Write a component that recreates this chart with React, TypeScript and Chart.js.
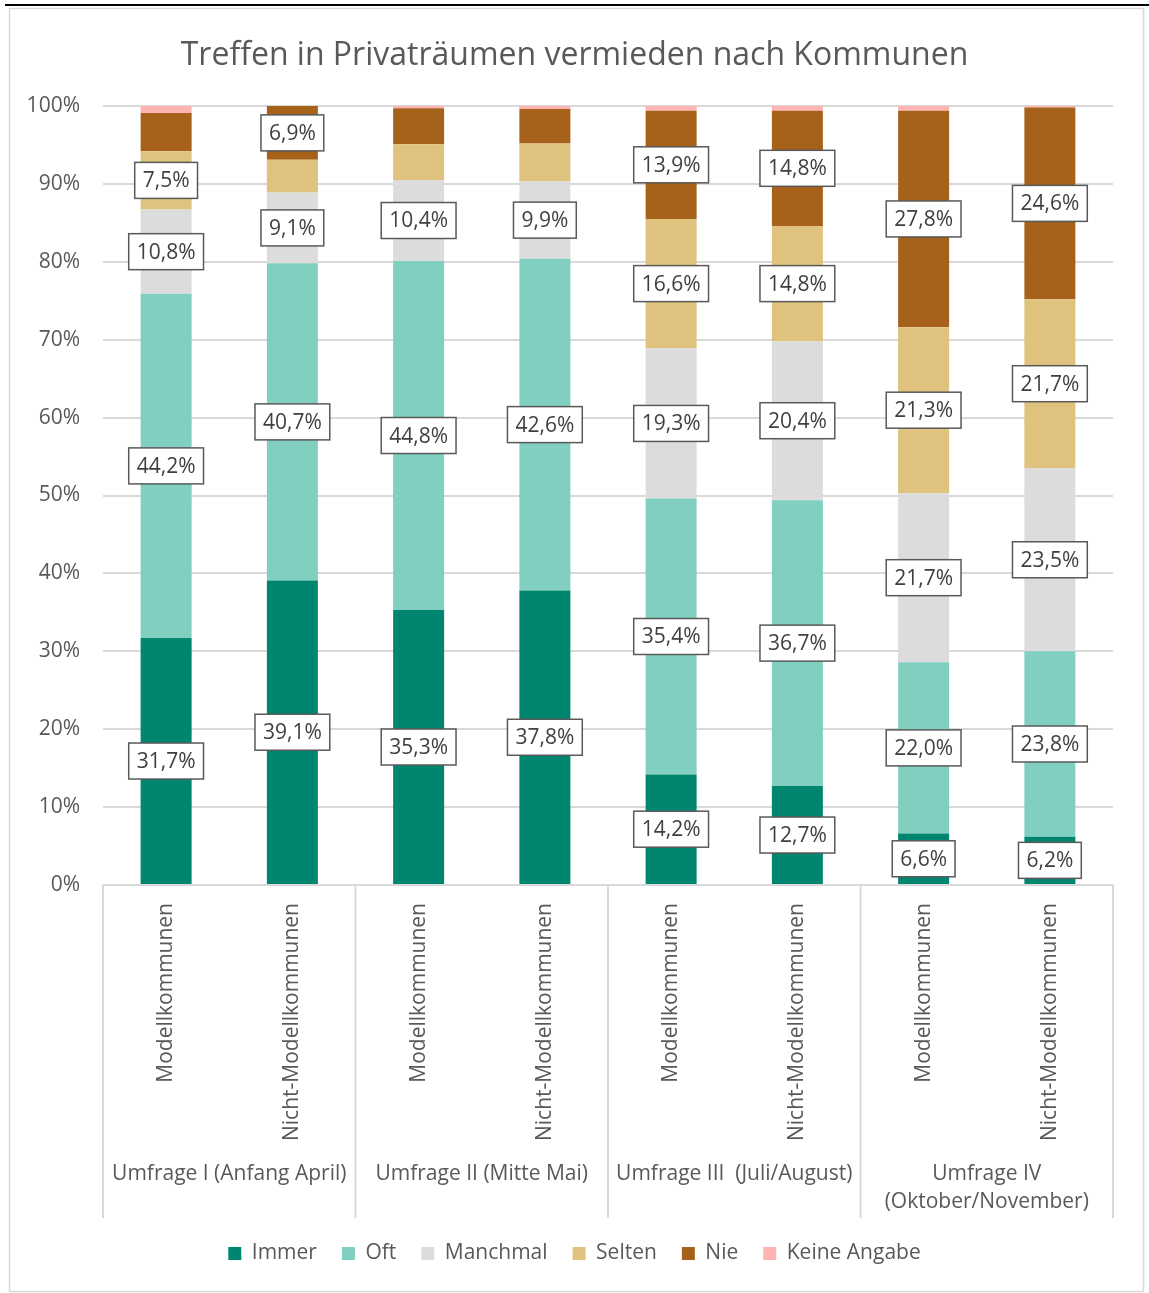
import React, { useEffect, useRef } from "react";
import { Chart, registerables } from "chart.js";

Chart.register(...registerables);

const categories = [
  "Modellkommunen", "Nicht-Modellkommunen",
  "Modellkommunen", "Nicht-Modellkommunen",
  "Modellkommunen", "Nicht-Modellkommunen",
  "Modellkommunen", "Nicht-Modellkommunen",
];
const groups: string[][] = [
  ["Umfrage I (Anfang April)"],
  ["Umfrage II (Mitte Mai)"],
  ["Umfrage III  (Juli/August)"],
  ["Umfrage IV", "(Oktober/November)"],
];
const seriesNames = ["Immer", "Oft", "Manchmal", "Selten", "Nie", "Keine Angabe"];
const immer = [31.7, 39.1, 35.3, 37.8, 14.2, 12.7, 6.6, 6.2];
const oft = [44.2, 40.7, 44.8, 42.6, 35.4, 36.7, 22.0, 23.8];
const manchmal = [10.8, 9.1, 10.4, 9.9, 19.3, 20.4, 21.7, 23.5];
const selten = [7.5, 4.2, 4.6, 4.9, 16.6, 14.8, 21.3, 21.7];
const nie = [4.9, 6.9, 4.6, 4.4, 13.9, 14.8, 27.8, 24.6];
const keineAngabe = [0.9, 0.0, 0.3, 0.4, 0.6, 0.6, 0.6, 0.2];
const colors = ["#00856f", "#80cfc1", "#dcdcdc", "#dfc27d", "#a6611a", "#ffb3b3"];
const yTicks = [0, 10, 20, 30, 40, 50, 60, 70, 80, 90, 100];

const FONT = "'Open Sans', sans-serif";
const TEXT = "#595959";
const GRID = "#d9d9d9";

const W = 1149;
const H = 1293;

export default function App() {
  const ref = useRef<HTMLCanvasElement | null>(null);

  useEffect(() => {
    if (!ref.current) return;
    const values = [immer, oft, manchmal, selten, nie, keineAngabe];

    const frame = {
      id: "frame",
      beforeDraw(chart: any) {
        const ctx = chart.ctx;
        ctx.save();
        ctx.fillStyle = "#fff";
        ctx.fillRect(0, 0, W, H);
        ctx.strokeStyle = "#000";
        ctx.lineWidth = 2;
        ctx.beginPath();
        ctx.moveTo(5, 5);
        ctx.lineTo(W, 5);
        ctx.stroke();
        ctx.strokeStyle = GRID;
        ctx.lineWidth = 1.5;
        ctx.strokeRect(9.5, 8.5, 1134, 1283);
        ctx.restore();
      },
    };

    const labels = {
      id: "boxLabels",
      afterDatasetsDraw(chart: any) {
        const ctx = chart.ctx;
        ctx.save();
        ctx.font = `21px ${FONT}`;
        ctx.textAlign = "center";
        ctx.textBaseline = "middle";
        for (let d = 0; d < 5; d++) {
          const meta = chart.getDatasetMeta(d);
          values[d].forEach((v, i) => {
            if (v < 5) return;
            const el: any = meta.data[i];
            const cy = (el.y + el.base) / 2;
            const txt = v.toFixed(1).replace(".", ",") + "%";
            const tw = ctx.measureText(txt).width;
            const bw = tw + 16;
            const bh = 36;
            ctx.fillStyle = "#fff";
            ctx.fillRect(el.x - bw / 2, cy - bh / 2, bw, bh);
            ctx.strokeStyle = "#595959";
            ctx.lineWidth = 1.5;
            ctx.strokeRect(el.x - bw / 2, cy - bh / 2, bw, bh);
            ctx.fillStyle = "#404040";
            ctx.fillText(txt, el.x, cy + 1);
          });
        }
        ctx.restore();
      },
    };

    const xAxis = {
      id: "multiAxis",
      afterDraw(chart: any) {
        const ctx = chart.ctx;
        const xs = chart.scales.x;
        const area = chart.chartArea;
        const bottom = area.bottom + 333;
        ctx.save();
        ctx.strokeStyle = GRID;
        ctx.lineWidth = 2;
        const step = (area.right - area.left) / categories.length;
        for (let g = 0; g <= groups.length; g++) {
          const x = area.left + g * step * 2;
          ctx.beginPath();
          ctx.moveTo(x, area.bottom);
          ctx.lineTo(x, bottom);
          ctx.stroke();
        }
        ctx.fillStyle = TEXT;
        ctx.font = `21px ${FONT}`;
        categories.forEach((c, i) => {
          const x = xs.getPixelForValue(i);
          ctx.save();
          ctx.translate(x, area.bottom + 18);
          ctx.rotate(-Math.PI / 2);
          ctx.textAlign = "right";
          ctx.textBaseline = "middle";
          ctx.fillText(c, 0, 0);
          ctx.restore();
        });
        ctx.textAlign = "center";
        ctx.textBaseline = "middle";
        groups.forEach((lines, g) => {
          const x = (xs.getPixelForValue(g * 2) + xs.getPixelForValue(g * 2 + 1)) / 2;
          lines.forEach((ln, k) => {
            ctx.fillText(ln, x, area.bottom + 289 + k * 28);
          });
        });
        ctx.restore();
      },
    };

    const chart = new Chart(ref.current, {
      type: "bar",
      data: {
        labels: categories,
        datasets: seriesNames.map((name, d) => ({
          label: name,
          data: values[d],
          backgroundColor: colors[d],
          borderWidth: 0,
          categoryPercentage: 1,
          barPercentage: 0.404,
        })),
      },
      options: {
        responsive: false,
        animation: false,
        layout: { padding: { top: 10, left: 20, right: 20, bottom: 19 } },
        plugins: {
          title: {
            display: true,
            text: "Treffen in Privaträumen vermieden nach Kommunen",
            color: TEXT,
            font: { family: FONT, size: 32, weight: "normal", lineHeight: 1.2 },
            padding: { top: 27, bottom: 30.6 },
          },
          legend: {
            position: "bottom",
            labels: {
              color: TEXT,
              boxWidth: 13,
              boxHeight: 13,
              padding: 25,
              font: { family: FONT, size: 21 },
            },
          },
          tooltip: { enabled: false },
        },
        scales: {
          x: {
            stacked: true,
            grid: { display: false },
            border: { display: false },
            ticks: { display: false },
            afterFit(scale: any) {
              scale.height = 333;
            },
          },
          y: {
            stacked: true,
            min: 0,
            max: 100,
            afterBuildTicks(scale: any) {
              scale.ticks = yTicks.map((v) => ({ value: v }));
            },
            grid: { color: GRID, lineWidth: 2, drawTicks: false },
            border: { display: false },
            ticks: {
              color: TEXT,
              padding: 23,
              font: { family: FONT, size: 21 },
              callback: (v: any) => v + "%",
            },
            afterFit(scale: any) {
              scale.width = 83;
            },
          },
          yRight: {
            type: "linear",
            position: "right",
            min: 0,
            max: 100,
            grid: { display: false },
            border: { display: false },
            ticks: { display: false },
            afterFit(scale: any) {
              scale.width = 16;
            },
          },
        },
      },
      plugins: [frame, labels, xAxis],
    });
    return () => chart.destroy();
  }, []);

  return (
    <div style={{ position: "absolute", left: 0, top: 0, width: W, height: H }}>
      <canvas ref={ref} width={W} height={H} style={{ width: W, height: H, display: "block" }} />
    </div>
  );
}
